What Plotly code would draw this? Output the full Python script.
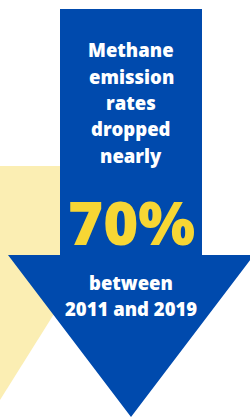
import plotly.graph_objects as go

# ---- data ----
headline_lines = ["Methane", "emission", "rates", "dropped", "nearly"]
headline_y = [49, 76, 102, 128, 155]
percent_value = 70
footer_lines = ["between", "2011 and 2019"]
footer_y = [282, 308]

BLUE = "#004AAD"
YELLOW = "#F7D634"
PALE = "#FBEEB3"

fig = go.Figure()

# pale yellow background arrow (partly hidden)
fig.add_trace(go.Scatter(
    x=[0, 91, 91, 0, 0], y=[166, 166, 255, 400, 166],
    fill="toself", fillcolor=PALE, line=dict(width=0), mode="lines",
    hoverinfo="skip", showlegend=False))

# blue down arrow
fig.add_trace(go.Scatter(
    x=[60, 202, 202, 254, 131, 8, 60, 60],
    y=[9, 9, 255, 255, 417, 255, 255, 9],
    fill="toself", fillcolor=BLUE, line=dict(width=0), mode="lines",
    hoverinfo="skip", showlegend=False))

font_main = "Open Sans, DejaVu Sans, sans-serif"
for t, y in zip(headline_lines, headline_y):
    fig.add_annotation(x=131, y=y, text=t, showarrow=False,
                       font=dict(family=font_main, size=18.5, color="white", weight=800),
                       xanchor="center", yanchor="middle")
fig.add_annotation(x=131, y=222, text=f"{percent_value}%", showarrow=False,
                   font=dict(family=font_main, size=60, color=YELLOW, weight=800),
                   xanchor="center", yanchor="middle")
for t, y in zip(footer_lines, footer_y):
    fig.add_annotation(x=131, y=y, text=t, showarrow=False,
                       font=dict(family=font_main, size=18.5, color="white", weight=800),
                       xanchor="center", yanchor="middle")

fig.update_xaxes(range=[0, 250], visible=False, fixedrange=True)
fig.update_yaxes(range=[417, 0], visible=False, fixedrange=True)
fig.update_layout(width=250, height=417, margin=dict(l=0, r=0, t=0, b=0),
                  paper_bgcolor="white", plot_bgcolor="white", showlegend=False)
fig.write_html("out.html", config={"displayModeBar": False},
               post_script="document.body.style.margin='0';document.body.style.overflow='hidden';")
